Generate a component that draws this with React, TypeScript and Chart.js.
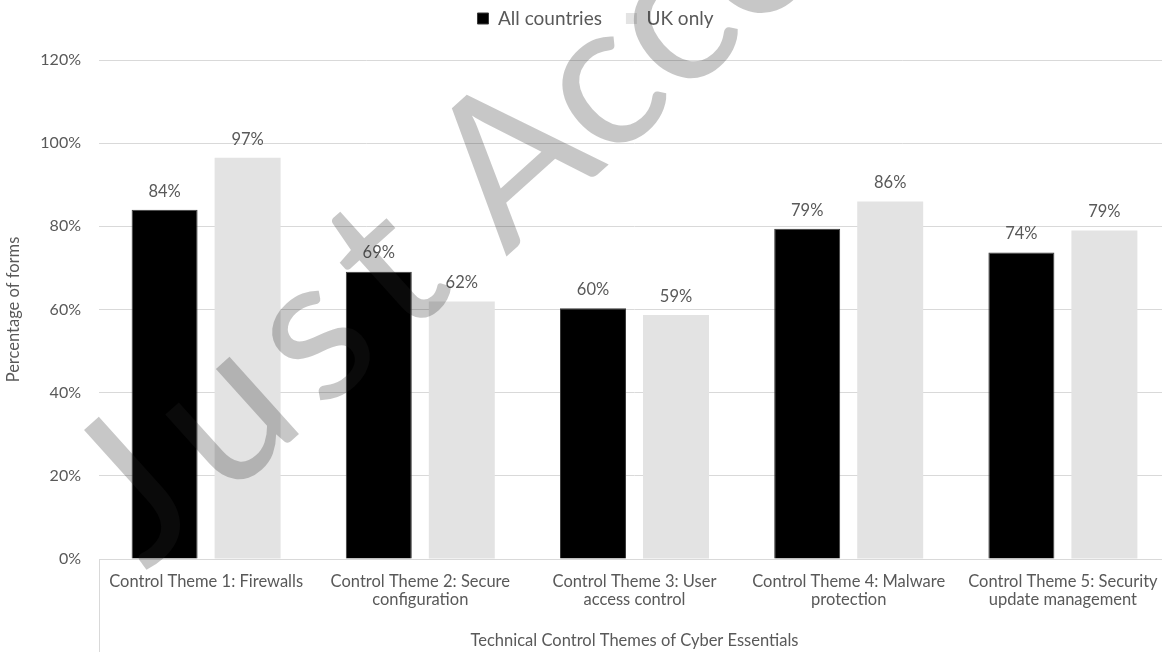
import React, { useEffect, useRef } from "react";
import { Chart, registerables } from "chart.js";

Chart.register(...registerables);

const categories: string[][] = [
  ["Control Theme 1: Firewalls"],
  ["Control Theme 2: Secure", "configuration"],
  ["Control Theme 3: User", "access control"],
  ["Control Theme 4: Malware", "protection"],
  ["Control Theme 5: Security", "update management"],
];
const allCountries = [84.0, 69.1, 60.3, 79.4, 73.7];
const ukOnly = [96.5, 61.9, 58.7, 86.0, 79.0];
const seriesNames = ["All countries", "UK only"];
const yMin = 0;
const yMax = 120;
const yStep = 20;
const yTitle = "Percentage of forms";
const xTitle = "Technical Control Themes of Cyber Essentials";
const watermarkWords = ["Just", "Accepted"];

const FONT = "Lato, 'Open Sans', sans-serif";
const TEXT = "#595959";
const GRID = "#d9d9d9";

const dataLabels = {
  id: "dataLabels",
  afterDatasetsDraw(chart: any) {
    const ctx = chart.ctx;
    ctx.save();
    ctx.font = `16.5px ${FONT}`;
    ctx.fillStyle = TEXT;
    ctx.textAlign = "center";
    ctx.textBaseline = "middle";
    chart.data.datasets.forEach((ds: any, i: number) => {
      const meta = chart.getDatasetMeta(i);
      meta.data.forEach((el: any, j: number) => {
        ctx.fillText(Math.round(ds.data[j]) + "%", el.x, el.y - 18.5);
      });
    });
    ctx.restore();
  },
};

const boxLine = {
  id: "boxLine",
  afterDraw(chart: any) {
    const ctx = chart.ctx;
    const x = Math.round(chart.chartArea.left) + 0.5;
    ctx.save();
    ctx.strokeStyle = GRID;
    ctx.lineWidth = 1;
    ctx.beginPath();
    ctx.moveTo(x, chart.chartArea.bottom);
    ctx.lineTo(x, chart.height);
    ctx.stroke();
    ctx.restore();
  },
};

const watermarkPlugin = {
  id: "watermark",
  afterDraw(chart: any) {
    const ctx = chart.ctx;
    const ang = (-42 * Math.PI) / 180;
    ctx.save();
    ctx.font = `205px ${FONT}`;
    ctx.fillStyle = "rgba(40,40,40,0.26)";
    ctx.textBaseline = "alphabetic";
    const ux = Math.cos(ang);
    const uy = Math.sin(ang);
    const ax = 506;
    const ay = 257;
    // second word
    ctx.save();
    ctx.translate(ax, ay);
    ctx.rotate(ang);
    ctx.fillText(watermarkWords[1], 0, 0);
    ctx.restore();
    // first word, letter by letter with extra spacing
    const first = watermarkWords[0];
    const spacing = 20;
    const pre = ctx.measureText(first + " ").width + 66;
    const sx = ax - pre * ux;
    const sy = ay - pre * uy;
    ctx.save();
    ctx.translate(sx, sy);
    ctx.rotate(ang);
    for (let i = 0; i < first.length; i++) {
      const off = ctx.measureText(first.slice(0, i)).width + i * spacing;
      ctx.fillText(first[i], off, -7);
    }
    ctx.restore();
    ctx.restore();
  },
};

export default function App() {
  const ref = useRef<HTMLCanvasElement>(null);
  useEffect(() => {
    document.body.style.margin = "0";
    document.documentElement.style.overflow = "hidden";
    const canvas = ref.current!;
    const chart = new Chart(canvas, {
      type: "bar",
      data: {
        labels: categories,
        datasets: [
          {
            label: seriesNames[0],
            data: allCountries,
            backgroundColor: "#000000",
            borderColor: "#3a3a3a",
            borderWidth: 1,
            barPercentage: 0.795,
            categoryPercentage: 0.775,
          },
          {
            label: seriesNames[1],
            data: ukOnly,
            backgroundColor: "#e3e3e3",
            borderWidth: 0,
            barPercentage: 0.795,
            categoryPercentage: 0.775,
          },
        ],
      },
      options: {
        responsive: false,
        animation: false,
        events: [],
        layout: { padding: { top: -15, left: 21, right: 10, bottom: 0 } },
        font: { family: FONT },
        plugins: {
          tooltip: { enabled: false },
          legend: {
            position: "top",
            labels: {
              color: TEXT,
              font: { family: FONT, size: 19 },
              boxWidth: 11,
              boxHeight: 11,
              padding: 24,
            },
          },
          title: {
            display: true,
            text: "",
            weight: 500,
            font: { size: 1, lineHeight: 1 },
            padding: { top: 21, bottom: 0 },
          } as any,
        },
        scales: {
          x: {
            grid: { display: false, drawTicks: false },
            border: { display: true, color: GRID },
            ticks: {
              color: TEXT,
              font: { family: FONT, size: 16.5, lineHeight: 1.11 },
              padding: 13.5,
              maxRotation: 0,
              autoSkip: false,
            },
            title: {
              display: true,
              text: xTitle,
              color: TEXT,
              font: { family: FONT, size: 16.5 },
              padding: { top: 0, bottom: 1 },
            },
            afterFit(scale: any) {
              scale.height = 93;
            },
          },
          y: {
            min: yMin,
            max: yMax,
            grid: { color: GRID, drawTicks: false },
            border: { display: false },
            ticks: {
              stepSize: yStep,
              color: TEXT,
              font: { family: FONT, size: 16 },
              padding: 18,
              callback: (v: any) => v + "%",
            },
            title: {
              display: true,
              text: yTitle,
              color: TEXT,
              font: { family: FONT, size: 16.5 },
              padding: { top: -17, bottom: 0 },
            },
            afterFit(scale: any) {
              scale.width = 78;
            },
          },
        },
      },
      plugins: [dataLabels, boxLine, watermarkPlugin],
    });
    return () => chart.destroy();
  }, []);
  return (
    <div style={{ width: 1162, height: 652, overflow: "hidden", background: "#fff" }}>
      <canvas ref={ref} width={1180} height={652} style={{ display: "block" }} />
    </div>
  );
}
